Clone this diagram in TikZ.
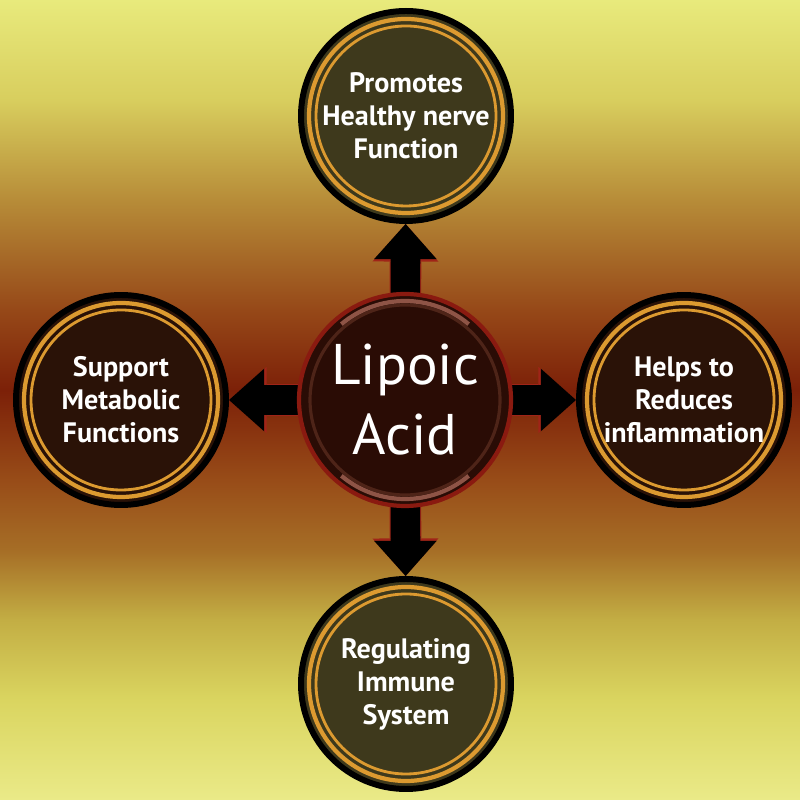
\documentclass[tikz,border=0pt]{standalone}
\usepackage{fontspec}
\setmainfont{PT Sans}
\usepackage{tikz}
\usetikzlibrary{calc,arrows.meta,backgrounds}
\definecolor{bgA}{HTML}{EAEA88}
\definecolor{bgB}{HTML}{DAD560}
\definecolor{bgC}{HTML}{C3AE44}
\definecolor{bgD}{HTML}{A66E26}
\definecolor{bgE}{HTML}{984C18}
\definecolor{bgF}{HTML}{7C2008}
\definecolor{bgG}{HTML}{964818}
\definecolor{bgH}{HTML}{B78C38}
\definecolor{bgI}{HTML}{D8CE5E}
\definecolor{bgJ}{HTML}{E8EA7C}
\definecolor{ringgold}{HTML}{DC9A30}
\definecolor{olivefill}{HTML}{3E391C}
\definecolor{rustfill}{HTML}{2A1207}
\definecolor{hubfill}{HTML}{2A0C05}
\definecolor{hubred}{HTML}{8A1A10}
\definecolor{hubring}{HTML}{4E2418}
\definecolor{hubshine}{HTML}{8E5446}
\definecolor{rimred}{HTML}{A02418}
% background band, visible part runs from 25bp to 75bp
\pgfdeclareverticalshading{bgband}{100bp}{color(0bp)=(bgA); color(25bp)=(bgA);
    color(31.25bp)=(bgB); color(36.25bp)=(bgC); color(40.6bp)=(bgD);
    color(45bp)=(bgE); color(50.6bp)=(bgF); color(55.6bp)=(bgG);
    color(62.5bp)=(bgH); color(68.75bp)=(bgI); color(75bp)=(bgJ); color(100bp)=(bgJ)}
\tikzset{
    benefit/.style={circle, draw=black, line width=1.7pt, minimum size=2.1cm, inner sep=0pt,
        fill=#1, text=white, align=center, font=\bfseries\fontsize{8}{9.4}\selectfont,
        path picture={
            \draw[ringgold, line width=1.2pt] (path picture bounding box.center) circle (0.97cm);
            \draw[ringgold, line width=0.8pt] (path picture bounding box.center) circle (0.90cm);
        }},
    hubcircle/.style={circle, draw=hubred, line width=1.2pt, minimum size=2.12cm, inner sep=0pt,
        fill=hubfill, text=white, align=center, font=\fontsize{16.3}{19.9}\selectfont,
        path picture={
            \draw[hubring, line width=0.9pt] (path picture bounding box.center) circle (0.95cm);
            \draw[hubshine, line width=1.2pt] ($(path picture bounding box.center)+(50:0.99cm)$) arc[start angle=50, end angle=130, radius=0.99cm];
            \draw[hubshine, line width=1.2pt] ($(path picture bounding box.center)+(230:0.99cm)$) arc[start angle=230, end angle=310, radius=0.99cm];
        }},
    arrowrim/.style={draw=rimred, line width=9pt, shorten <=-6pt,
        -{Triangle[width=18.8pt, length=10.7pt, line width=0pt]}},
    arrowbody/.style={draw=black, line width=8.4pt, shorten <=-6pt,
        -{Triangle[width=17.8pt, length=10pt, line width=0pt]}},
}
\begin{document}
\begin{tikzpicture}
    \useasboundingbox (0,0) rectangle (8,8);
    \node[hubcircle] (hub) at (4.05,4.00) {Lipoic\\Acid};
    \node[benefit=olivefill] (nerve) at (4.06,6.84) {Promotes\\Healthy nerve\\Function};
    \node[benefit=rustfill] (metab) at (1.21,4.00) {Support\\Metabolic\\Functions};
    \node[benefit=rustfill] (inflam) at (6.84,4.00) {Helps to\\Reduces\\inflammation};
    \node[benefit=olivefill] (immune) at (4.06,1.16) {Regulating\\Immune\\System};
    \begin{scope}[on background layer]
        \shade[shading=bgband] (0,0) rectangle (8,8);
        \foreach \dest in {nerve,metab,inflam,immune}{
            \draw[arrowrim] (hub) -- (\dest);
            \draw[arrowbody] (hub) -- (\dest);
        }
    \end{scope}
\end{tikzpicture}
\end{document}
